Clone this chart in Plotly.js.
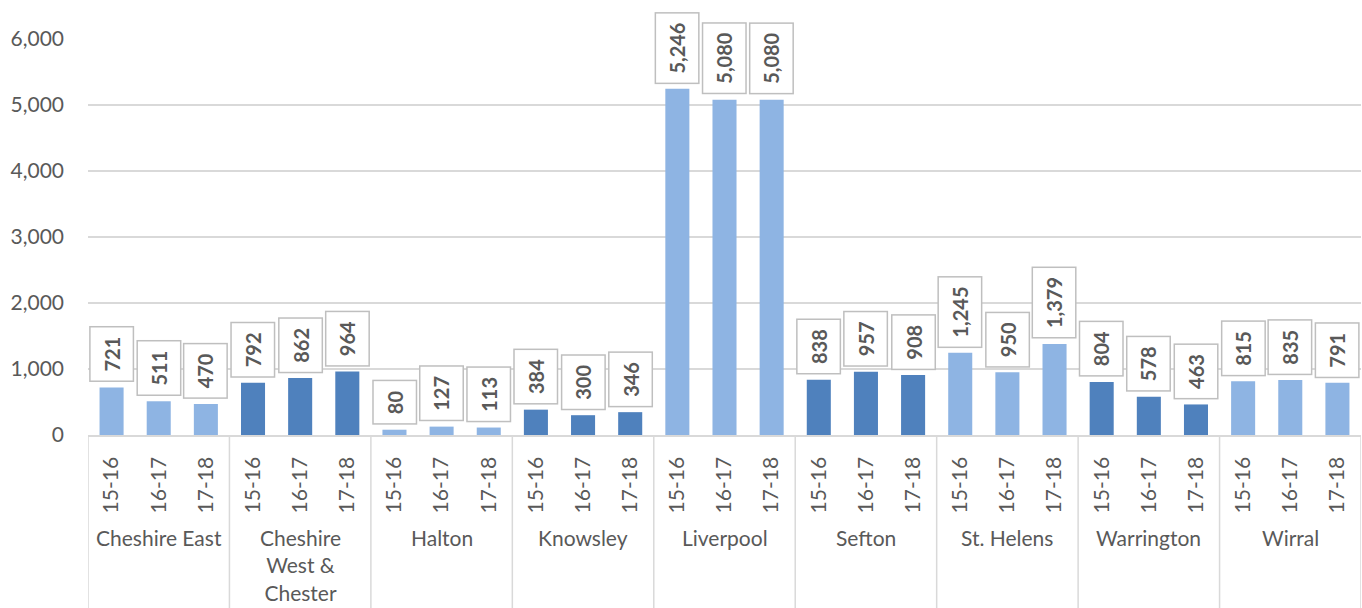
<!DOCTYPE html>
<html>
<head>
<meta charset="utf-8">
<script src="https://cdn.plot.ly/plotly-3.0.1.min.js"></script>
<style>html,body{margin:0;padding:0;background:#fff;}#chart{width:1362px;height:608px;}</style>
</head>
<body>
<div id="chart"></div>
<script>
const areas = ["Cheshire East", "Cheshire<br>West &<br>Chester", "Halton", "Knowsley", "Liverpool", "Sefton", "St. Helens", "Warrington", "Wirral"];
const years = ["15-16", "16-17", "17-18"];
const values = [
  [721, 511, 470],
  [792, 862, 964],
  [80, 127, 113],
  [384, 300, 346],
  [5246, 5080, 5080],
  [838, 957, 908],
  [1245, 950, 1379],
  [804, 578, 463],
  [815, 835, 791]
];
const yTicks = [0, 1000, 2000, 3000, 4000, 5000, 6000];
const lightBlue = "#8EB4E3";
const darkBlue = "#4F81BD";

const xs = [], ys = [], cols = [], tickText = [];
const annotations = [], shapes = [];
const font = "Lato, 'Open Sans', sans-serif";
areas.forEach((a, g) => {
  years.forEach((yr, k) => {
    const i = g * 3 + k;
    xs.push(i); ys.push(values[g][k]);
    cols.push(g % 2 === 0 ? lightBlue : darkBlue);
    tickText.push(yr);
    annotations.push({
      x: i, y: values[g][k], xref: "x", yref: "y",
      text: values[g][k].toLocaleString("en-US"),
      showarrow: false, textangle: -90,
      xanchor: "center", yanchor: "bottom", yshift: 5,
      bgcolor: "#ffffff", bordercolor: "#BFBFBF", borderwidth: 1.5, borderpad: 9,
      font: {family: font, size: 20, color: "#595959", weight: "bold"}
    });
  });
  annotations.push({
    x: g * 3 + 1, y: -0.222, xref: "x", yref: "paper",
    text: a, showarrow: false, xanchor: "center", yanchor: "top",
    font: {family: font, size: 21, color: "#595959"}
  });
});
for (let g = 0; g <= areas.length; g++) {
  shapes.push({type: "line", xref: "x", yref: "paper", x0: g * 3 - 0.5, x1: g * 3 - 0.5, y0: 0, y1: -0.44,
    line: {color: "#D9D9D9", width: 1.5}});
}

Plotly.newPlot("chart", [{
  type: "bar", x: xs, y: ys, width: 0.51,
  marker: {color: cols}, hoverinfo: "skip"
}], {
  width: 1362, height: 608,
  margin: {l: 88, r: 1, t: 39, b: 173},
  paper_bgcolor: "#fff", plot_bgcolor: "#fff",
  showlegend: false,
  font: {family: font, color: "#595959"},
  xaxis: {
    range: [-0.5, 26.5], tickvals: xs, ticktext: tickText, tickangle: -90,
    ticks: "outside", ticklen: 12, tickcolor: "rgba(0,0,0,0)",
    tickfont: {family: font, size: 21, color: "#595959"},
    showgrid: false, zeroline: false, showline: true, linecolor: "#D9D9D9", linewidth: 1.5
  },
  yaxis: {
    range: [0, 6000], tickvals: yTicks,
    tickformat: ",d", showgrid: true, gridcolor: "#D9D9D9", gridwidth: 1.5,
    zeroline: false, showline: false, ticks: "", ticklabelstandoff: 23,
    tickfont: {family: font, size: 21, color: "#595959"}
  },
  annotations: annotations, shapes: shapes
}, {staticPlot: true});
</script>
</body>
</html>
